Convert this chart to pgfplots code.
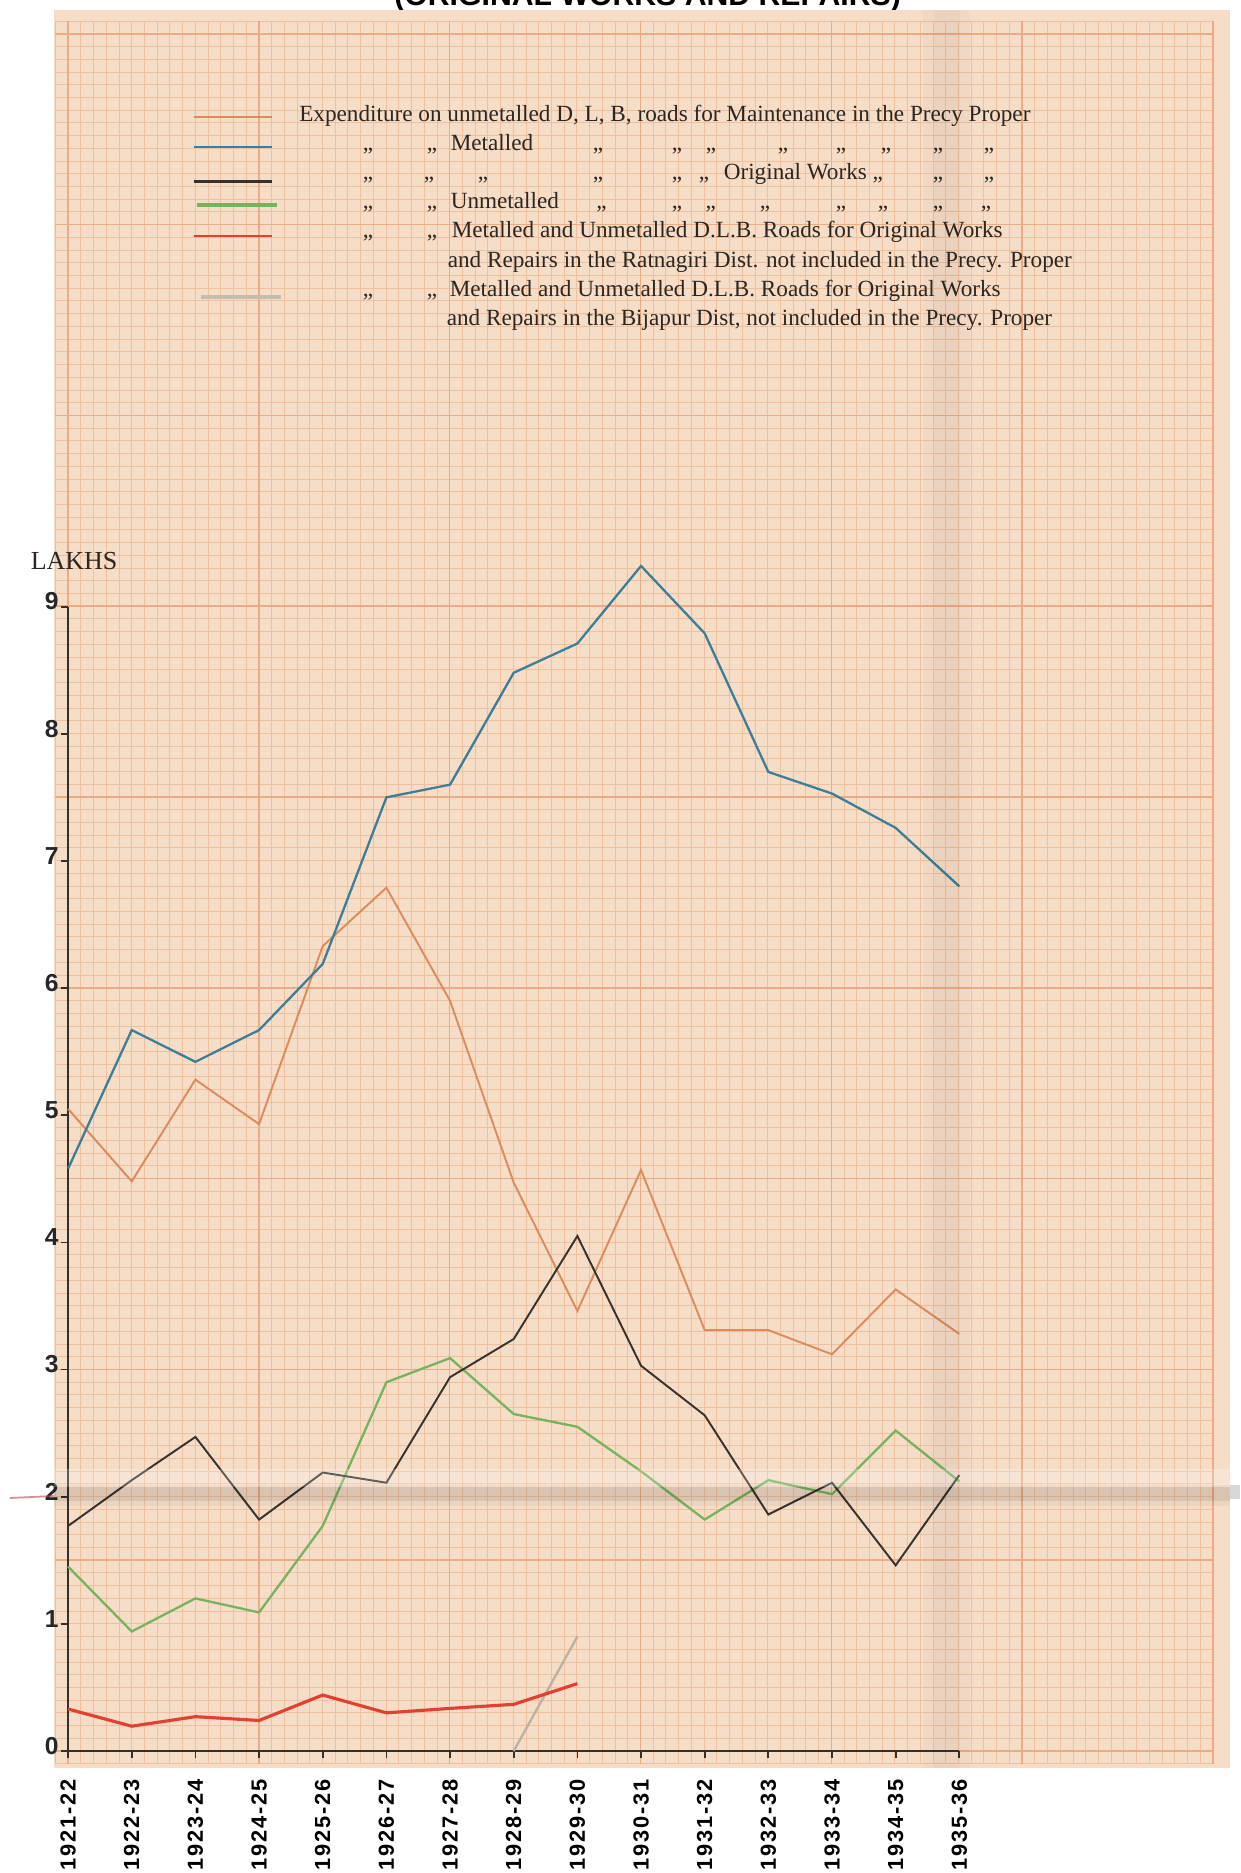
\documentclass[border=0pt]{standalone}
\usepackage{pgfplots}
\usepackage{pgfplotstable}
\pgfplotsset{compat=1.18}
\usepackage{fontspec}
\setmainfont{Liberation Serif}
\newfontfamily\numfont{Liberation Sans}
\newfontfamily\xlabfont[LetterSpace=8]{Liberation Sans}
\newcommand\lf{\fontsize{6.6}{8}\selectfont}

\definecolor{paper}{RGB}{245,221,200}
\definecolor{gridc}{RGB}{238,192,158}
\definecolor{gridh}{RGB}{233,172,132}
\definecolor{corange}{RGB}{218,140,95}
\definecolor{cblue}{RGB}{62,125,150}
\definecolor{cblack}{RGB}{55,50,45}
\definecolor{cgreen}{RGB}{120,178,95}
\definecolor{cred}{RGB}{225,65,50}
\definecolor{cgray}{RGB}{185,178,160}
\definecolor{axisc}{RGB}{50,48,40}
\definecolor{ink}{RGB}{45,38,32}

\pgfplotstableread{
x blue orange black green
0 4.58 5.05 1.77 1.45
1 5.67 4.48 2.13 0.94
2 5.42 5.28 2.47 1.20
3 5.67 4.93 1.82 1.09
4 6.19 6.33 2.19 1.77
5 7.50 6.79 2.11 2.90
6 7.60 5.90 2.94 3.09
7 8.48 4.47 3.24 2.65
8 8.71 3.46 4.05 2.55
9 9.32 4.57 3.03 2.20
10 8.79 3.31 2.64 1.82
11 7.70 3.31 1.86 2.13
12 7.53 3.12 2.11 2.02
13 7.26 3.63 1.46 2.52
14 6.80 3.28 2.17 2.12
}\maintable

\pgfplotstableread{
x y
0 0.33
1 0.195
2 0.27
3 0.24
4 0.44
5 0.30
6 0.335
7 0.367
8 0.53
}\redtable

\pgfplotstableread{
x y
7 0
8 0.90
}\graytable

\begin{document}
\begin{tikzpicture}
% title, cut off by the top edge as in the original scan
\node[anchor=base, inner sep=0pt, text=black, font=\numfont\bfseries\fontsize{8.6}{10}\selectfont] at (5.795,17.45) {(ORIGINAL WORKS AND REPAIRS)};
% graph paper
\fill[paper] (-0.14,-0.17) rectangle (11.62,17.41);
\draw[gridc, line width=0.25pt, step=0.1272] (-0.1272,-0.1272) grid (11.449,17.30);
\draw[gridh, line width=0.45pt, step=1.908] (-0.1272,-0.1272) grid (11.449,17.30);

% legend samples
\draw[corange, line width=0.6pt] (1.255,16.34) -- (2.043,16.34);
\draw[cblue, line width=0.6pt] (1.255,16.04) -- (2.043,16.04);
\draw[cblack, line width=0.85pt] (1.255,15.69) -- (2.043,15.69);
\draw[cgreen, line width=0.9pt] (1.29,15.46) -- (2.09,15.46);
\draw[cred, line width=0.7pt] (1.255,15.15) -- (2.043,15.15);
\draw[cgray!85, line width=1.4pt] (1.33,14.54) -- (2.13,14.54);

% legend text
\begin{scope}[every node/.style={inner sep=0pt, text=ink, font=\lf}]
\node[anchor=base west] at (2.305,16.29) {Expenditure on unmetalled D, L, B, roads for Maintenance in the Precy Proper};
% row 2
\foreach \x in {3.00,3.64,5.30,6.09,6.43,7.15,7.73,8.18,8.70,9.21}
  \node[anchor=base] at (\x,16.00) {„};
\node[anchor=base west] at (3.82,16.00) {Metalled};
% row 3
\foreach \x in {3.00,3.61,4.15,5.30,6.09,6.36,8.70,9.21}
  \node[anchor=base] at (\x,15.71) {„};
\node[anchor=base west] at (6.55,15.71) {Original Works „};
% row 4
\foreach \x in {3.00,3.64,5.335,6.09,6.426,6.97,7.73,8.15,8.70,9.18}
  \node[anchor=base] at (\x,15.42) {„};
\node[anchor=base west] at (3.82,15.42) {Unmetalled};
% rows 5-6
\foreach \x in {3.00,3.64}
  \node[anchor=base] at (\x,15.13) {„};
\node[anchor=base west] at (3.83,15.13) {Metalled and Unmetalled D.L.B. Roads for Original Works};
\node[anchor=base west] at (3.79,14.83) {and Repairs in the Ratnagiri Dist. not included in the Precy. Proper};
% rows 7-8
\foreach \x in {3.00,3.64}
  \node[anchor=base] at (\x,14.54) {„};
\node[anchor=base west] at (3.81,14.54) {Metalled and Unmetalled D.L.B. Roads for Original Works};
\node[anchor=base west] at (3.78,14.25) {and Repairs in the Bijapur Dist, not included in the Precy. Proper};
\end{scope}

% y axis caption
\node[inner sep=0pt, text=ink, font=\fontsize{7.4}{8}\selectfont] at (0.06,11.895) {LAKHS};

\begin{axis}[
  at={(0,0)}, anchor=south west,
  x=0.6366cm, y=1.2715cm,
  xmin=0, xmax=14, ymin=0, ymax=9,
  axis x line=bottom, axis y line=left,
  axis line style={-, draw=axisc, line width=0.75pt},
  clip=false,
  xtick={0,1,2,3,4,5,6,7,8,9,10,11,12,13,14},
  ytick={0,1,2,3,4,5,6,7,8,9},
  xticklabels={1921-22,1922-23,1923-24,1924-25,1925-26,1926-27,1927-28,1928-29,1929-30,1930-31,1931-32,1932-33,1933-34,1934-35,1935-36},
  yticklabels={0,1,2,3,4,5,6,7,8,9},
  tick align=outside,
  major tick length=0.07cm,
  every tick/.style={draw=axisc, line width=0.5pt},
  xticklabel style={rotate=90, anchor=east, inner sep=0pt, font=\xlabfont\bfseries\fontsize{6.2}{7}\selectfont, text=black},
  yticklabel style={anchor=east, inner sep=0.5pt, font=\numfont\bfseries\fontsize{7}{8}\selectfont, text=black!85, yshift=1.5pt},
  xticklabel shift=6pt,
]
\addplot[corange, line width=0.55pt] table[x=x, y=orange] {\maintable};
\addplot[cblue, line width=0.65pt] table[x=x, y=blue] {\maintable};
\addplot[cgreen, line width=0.65pt] table[x=x, y=green] {\maintable};
\addplot[cblack, line width=0.55pt] table[x=x, y=black] {\maintable};
\addplot[cgray, line width=0.65pt] table[x=x, y=y] {\graytable};
\addplot[cred, line width=0.9pt] table[x=x, y=y] {\redtable};
\end{axis}

% folds in the paper
\fill[black, opacity=0.02] (8.55,-0.17) rectangle (9.02,17.41);
\fill[black, opacity=0.025] (8.66,-0.17) rectangle (8.92,17.41);
\fill[white, opacity=0.22] (-0.14,2.64) rectangle (11.62,2.82);
\fill[black, opacity=0.07] (-0.14,2.50) rectangle (11.62,2.64);
\fill[black, opacity=0.04] (-0.14,2.45) rectangle (11.62,2.66);
\draw[red!45!gray, opacity=0.6, line width=0.5pt] (-0.58,2.53) -- (-0.14,2.55);
\fill[gray!70, opacity=0.45] (11.62,2.52) rectangle (11.72,2.66);

\pgfresetboundingbox
\path[use as bounding box] (-0.681,-1.22) rectangle (11.719,17.51);
\end{tikzpicture}
\end{document}
